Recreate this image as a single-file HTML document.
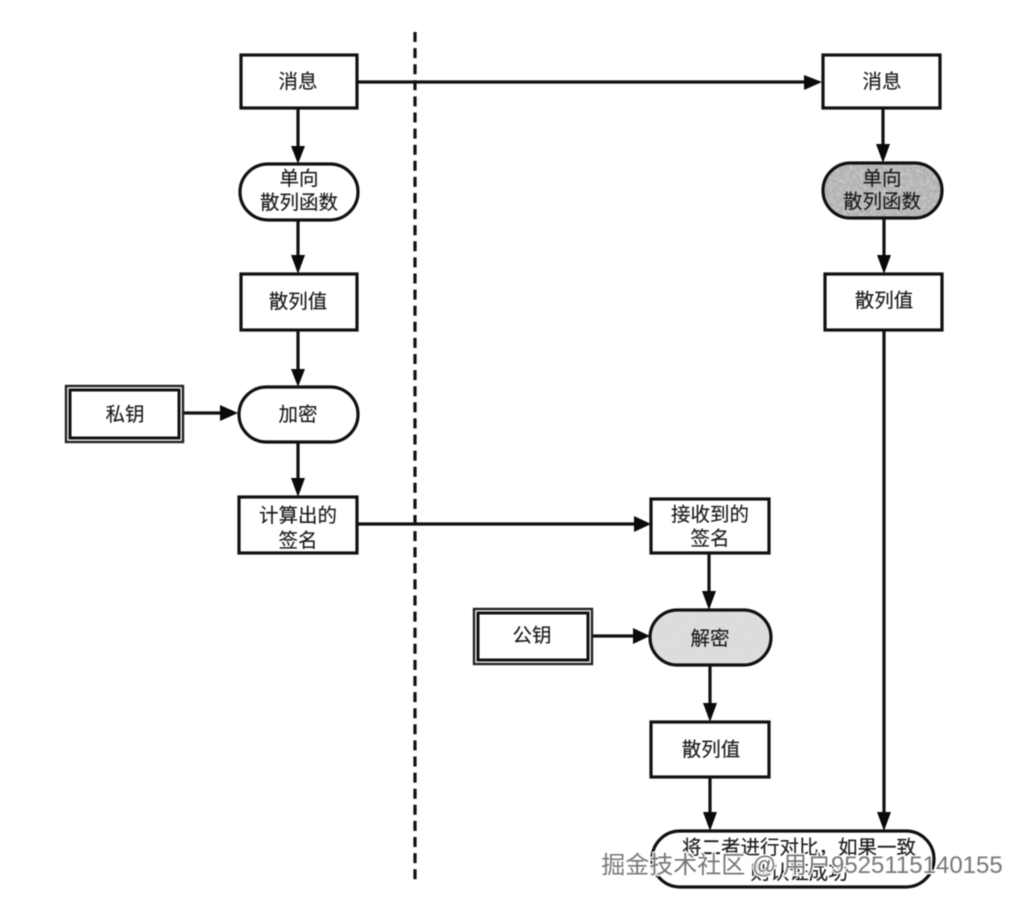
<!DOCTYPE html>
<html><head><meta charset="utf-8"><style>
html,body{margin:0;padding:0;background:#fff}
svg{display:block}
text{font-family:"Liberation Sans","Noto Sans CJK SC",sans-serif;font-size:19.5px;fill:#1a1a1a;text-anchor:middle;stroke:#1a1a1a;stroke-width:.15px}
.b{fill:#fff;stroke:#111;stroke-width:3.2}
.o{fill:none;stroke:#111;stroke-width:3.2}
.l{stroke:#111;stroke-width:3.2;fill:none}
.a{fill:#0a0a0a}
</style></head><body>
<svg width="1026" height="902" viewBox="0 0 1026 902" xmlns="http://www.w3.org/2000/svg">
<defs>
<filter id="n" x="0" y="0" width="100%" height="100%" color-interpolation-filters="sRGB"><feTurbulence type="fractalNoise" baseFrequency="0.3" numOctaves="2" seed="3"/><feColorMatrix values="0 0 0 0 0.88 0 0 0 0 0.88 0 0 0 0 0.88 1.2 0 0 0 -0.45"/><feComposite in2="SourceGraphic" operator="in"/><feMerge><feMergeNode in="SourceGraphic"/><feMergeNode/></feMerge></filter>
<filter id="s" filterUnits="userSpaceOnUse" x="0" y="0" width="1026" height="902" color-interpolation-filters="sRGB"><feGaussianBlur stdDeviation="0.45"/></filter>
</defs>
<rect width="1026" height="902" fill="#fff"/>
<g filter="url(#s)">
<path d="M415 32V880" class="l" stroke-dasharray="10 6.1"/>

<!-- connectors -->
<path class="l" d="M298 108V146M298 220V256M298 330V369M298 442V479M357 82H805M183 413H222M357 524H634M883 108V145M884 218V256M884 330V812M709 553V592M592 636H633M710 665V704M710 777V812"/>
<g class="a">
<path d="M291 146H305L298 164Z"/><path d="M291 255H305L298 274Z"/><path d="M291 369H305L298 387Z"/><path d="M291 478H305L298 497Z"/>
<path d="M804 75V90L822 82Z"/><path d="M220 405V421L238 413Z"/><path d="M634 516V532L651 524Z"/>
<path d="M876 144H890L883 163Z"/><path d="M877 255H891L884 274Z"/><path d="M877 812H891L884 831Z"/>
<path d="M702 591H716L709 610Z"/><path d="M633 628V644L650 636Z"/><path d="M703 703H717L710 722Z"/><path d="M703 812H717L710 831Z"/>
</g>

<!-- left -->
<rect class="b" x="241" y="55" width="116" height="53"/>
<rect class="b" x="240" y="164" width="118" height="56" rx="28"/>
<rect class="b" x="241" y="274" width="116" height="56"/>
<rect class="b" x="239" y="387" width="119" height="55" rx="27.5"/>
<rect class="b" x="239" y="497" width="118" height="56"/>
<rect x="66" y="386" width="117" height="56" fill="#fff" stroke="#222" stroke-width="2.4"/>
<rect x="70" y="390" width="109" height="48" fill="#fff" stroke="#111" stroke-width="3"/>

<!-- right -->
<rect class="b" x="823" y="55" width="117" height="53"/>
<rect x="823" y="163" width="119" height="55" rx="27.5" fill="#b2b2b2" filter="url(#n)"/>
<rect class="o" x="823" y="163" width="119" height="55" rx="27.5"/>
<rect class="b" x="825" y="274" width="117" height="56"/>
<rect class="b" x="651" y="499" width="118" height="54"/>
<rect x="650" y="610" width="121" height="55" rx="27.5" fill="#dcdcdc" filter="url(#n)"/>
<rect class="o" x="650" y="610" width="121" height="55" rx="27.5"/>
<rect x="474" y="609" width="118" height="55" fill="#fff" stroke="#222" stroke-width="2.4"/>
<rect x="478" y="613" width="110" height="47" fill="#fff" stroke="#111" stroke-width="3"/>
<rect class="b" x="651" y="722" width="118" height="55"/>
<rect class="b" x="652" y="831" width="282" height="56" rx="28"/>

<!-- labels -->
<text x="298" y="88">消息</text>
<text x="299" y="185">单向</text>
<text x="299" y="209">散列函数</text>
<text x="298" y="308">散列值</text>
<text x="298" y="421">加密</text>
<text x="125" y="421">私钥</text>
<text x="298" y="522">计算出的</text>
<text x="298" y="547">签名</text>
<text x="882" y="88">消息</text>
<text x="882" y="185">单向</text>
<text x="882" y="208">散列函数</text>
<text x="884" y="307">散列值</text>
<text x="710" y="521">接收到的</text>
<text x="710" y="545">签名</text>
<text x="710" y="645">解密</text>
<text x="532" y="642">公钥</text>
<text x="711" y="756">散列值</text>
<text x="799" y="854">将二者进行对比，如果一致</text>
<text x="799" y="879">则认证成功</text>

<text x="802" y="873" style="font-size:24px;fill:#777;stroke:#fff;stroke-width:2.5px;paint-order:stroke">掘金技术社区 @ 用户9525115140155</text>
</g>
</svg>
</body></html>
